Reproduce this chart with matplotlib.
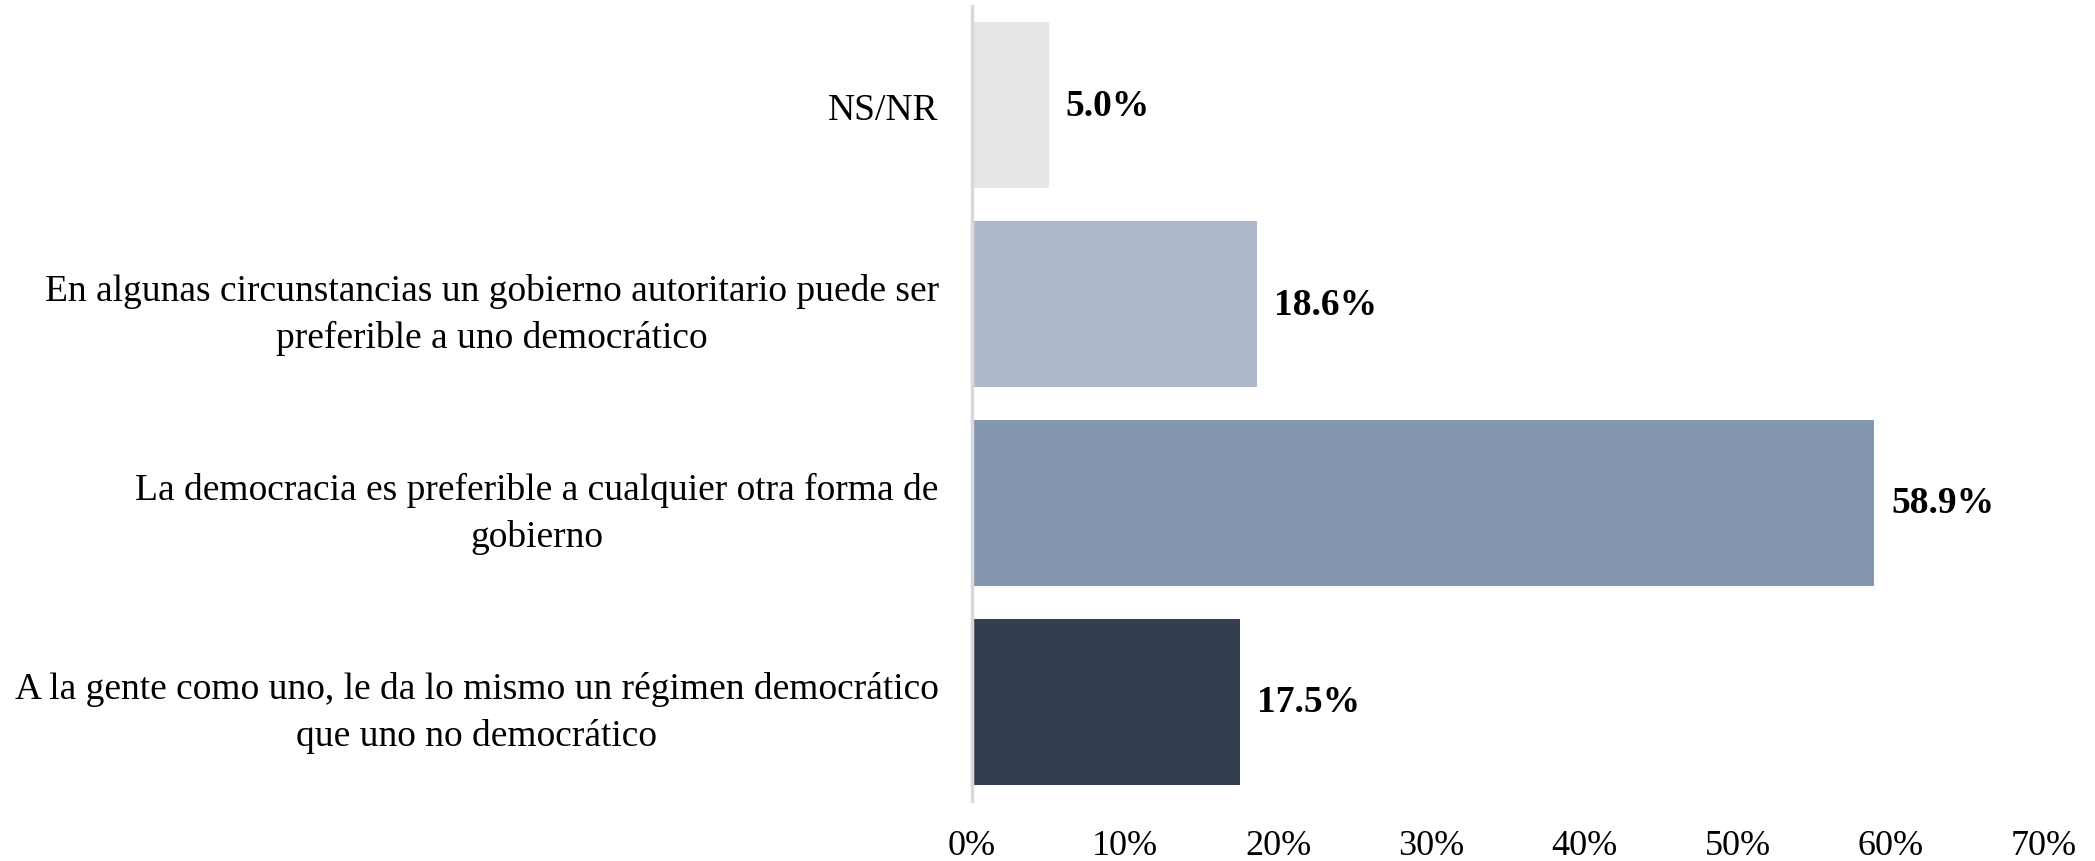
import matplotlib.pyplot as plt
from matplotlib.ticker import FuncFormatter

# survey answers, bottom to top
categories = [
    "A la gente como uno, le da lo mismo un régimen democrático\nque uno no democrático",
    "La democracia es preferible a cualquier otra forma de\ngobierno",
    "En algunas circunstancias un gobierno autoritario puede ser\npreferible a uno democrático",
    "NS/NR",
]
values = [17.5, 58.9, 18.6, 5.0]
colors = ["#333F50", "#8497B0", "#ADB9CA", "#E6E6E6"]
xticks = [0, 10, 20, 30, 40, 50, 60, 70]

plt.rcParams['font.family'] = ['Liberation Serif', 'DejaVu Serif']

fig = plt.figure(figsize=(20.95, 8.62), dpi=100)
ax = fig.add_axes([0.464, 0.0696, 0.5117, 0.9223])

pos = range(len(categories))
ax.barh(pos, values, height=0.835, color=colors)

for y, v in zip(pos, values):
    ax.text(v + 1.1, y, f"{v:.1f}%", va='center', ha='left',
            fontsize=27, fontweight='bold')

ax.set_xlim(0, 70)
ax.set_ylim(-0.5, 3.5)
ax.set_xticks(xticks)
ax.xaxis.set_major_formatter(FuncFormatter(lambda x, p: f"{x:.0f}%"))
ax.set_yticks(list(pos))
ax.set_yticklabels(categories, multialignment='center', linespacing=1.45)
ax.tick_params(axis='x', length=0, labelsize=26, pad=20)
ax.tick_params(axis='y', length=0, labelsize=27, pad=24)

for s in ['top', 'right', 'bottom']:
    ax.spines[s].set_visible(False)
ax.spines['left'].set_color('#D9D9D9')
ax.spines['left'].set_linewidth(2.5)

fig.savefig('out.png', dpi=100)
